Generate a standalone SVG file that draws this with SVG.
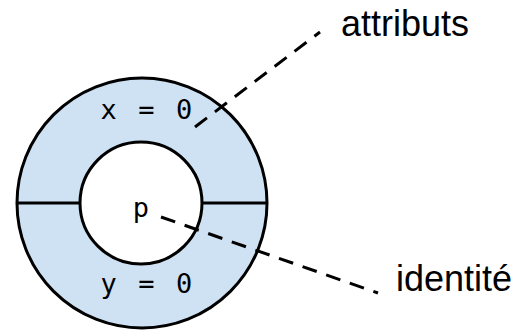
<svg xmlns="http://www.w3.org/2000/svg" width="520" height="330" viewBox="0 0 520 330">
<style>
.ring{fill:#cfe2f3;stroke:#000;stroke-width:3}
.hole{fill:#fff;stroke:#000;stroke-width:3}
.sep{stroke:#000;stroke-width:3;fill:none}
.mono{font-family:"DejaVu Sans Mono",monospace;font-size:27px;fill:#000}
.lbl{font-family:"Liberation Sans",Arial,sans-serif;font-size:36px;fill:#000}
.dash{stroke:#000;stroke-width:3;fill:none;stroke-dasharray:15 10}
</style>
<rect width="520" height="330" fill="#fff"/>
<g id="object">
<circle class="ring" cx="142" cy="203" r="125"/>
<circle class="hole" cx="141" cy="203" r="61"/>
<line class="sep" x1="17" y1="203" x2="80" y2="203"/>
<line class="sep" x1="202" y1="203" x2="267" y2="203"/>
<text class="mono" x="100.5" y="119" style="letter-spacing:2.6px">x = 0</text>
<text class="mono" x="100.5" y="293" style="letter-spacing:2.6px">y = 0</text>
<text class="mono" x="141" y="217" text-anchor="middle">p</text>
</g>
<g id="connectors">
<line class="dash" x1="195" y1="127" x2="320" y2="32"/>
<line class="dash" x1="161" y1="217" x2="378" y2="293"/>
</g>
<g id="label-attributs">
<text class="lbl" x="341" y="36">attributs</text>
</g>
<g id="label-identite">
<text class="lbl" x="396" y="291">identité</text>
</g>
</svg>
